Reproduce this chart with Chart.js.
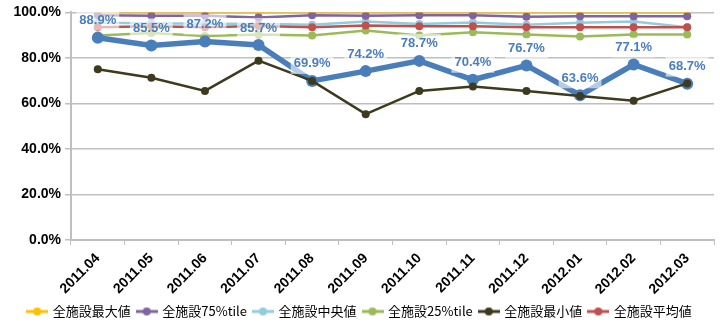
<!DOCTYPE html>
<html>
<head>
<meta charset="utf-8">
<script src="https://cdn.jsdelivr.net/npm/chart.js@4"></script>
<style>
  html, body { margin: 0; padding: 0; background: #fff; }
  #wrap { width: 720px; height: 325px; }
</style>
</head>
<body>
<div id="wrap"><canvas id="chart"></canvas></div>
<script>
// ---- data ----
const months = ['2011.04', '2011.05', '2011.06', '2011.07', '2011.08', '2011.09',
                '2011.10', '2011.11', '2011.12', '2012.01', '2012.02', '2012.03'];

const ownRate = [88.9, 85.5, 87.2, 85.7, 69.9, 74.2, 78.7, 70.4, 76.7, 63.6, 77.1, 68.7];
const maxRate = [100, 100, 100, 100, 100, 100, 100, 100, 100, 100, 100, 100];
const p75Rate = [98.8, 98.5, 98.5, 97.8, 98.8, 98.5, 98.8, 98.8, 98.1, 98.3, 98.3, 98.3];
const medRate = [95.4, 95.2, 95.0, 95.0, 94.6, 96.0, 94.9, 95.6, 94.6, 95.4, 96.0, 93.5];
const p25Rate = [89.9, 91.0, 89.6, 90.3, 89.9, 92.0, 89.9, 91.3, 90.3, 89.4, 90.3, 90.3];
const minRate = [75.0, 71.3, 65.5, 78.8, 69.9, 55.3, 65.5, 67.4, 65.5, 63.3, 61.2, 68.8];
const avgRate = [93.5, 93.9, 93.5, 94.0, 93.5, 94.2, 93.9, 93.9, 93.5, 93.5, 93.5, 93.5];

const yTicks = [0, 20, 40, 60, 80, 100];

const seriesNames = ['全施設最大値', '全施設75%tile', '全施設中央値', '全施設25%tile', '全施設最小値', '全施設平均値'];
const seriesColors = ['#FFC000', '#8064A2', '#93CDDD', '#9BBB59', '#3D3A1E', '#C0504D'];
const ownColor = '#4A7EBB';

// legend marker: short line with a dot
function legendIcon(color) {
    const c = document.createElement('canvas');
    c.width = 22; c.height = 10;
    const g = c.getContext('2d');
    g.strokeStyle = color;
    g.lineWidth = 3;
    g.beginPath(); g.moveTo(0, 5); g.lineTo(22, 5); g.stroke();
    g.fillStyle = color;
    g.beginPath(); g.arc(11, 5, 4, 0, Math.PI * 2); g.fill();
    return c;
}

function lineSet(label, data, color, order) {
    return {
        label: label,
        data: data,
        borderColor: color,
        backgroundColor: color,
        borderWidth: 2.5,
        pointRadius: 4,
        pointHoverRadius: 4,
        pointBorderWidth: 0,
        tension: 0,
        order: order
    };
}

const datasets = [
    lineSet(seriesNames[0], maxRate, seriesColors[0], 5),
    lineSet(seriesNames[1], p75Rate, seriesColors[1], 4),
    lineSet(seriesNames[2], medRate, seriesColors[2], 4),
    lineSet(seriesNames[3], p25Rate, seriesColors[3], 4),
    lineSet(seriesNames[4], minRate, seriesColors[4], 0),
    lineSet(seriesNames[5], avgRate, seriesColors[5], 3),
    {
        label: 'own',
        data: ownRate,
        borderColor: ownColor,
        backgroundColor: ownColor,
        borderWidth: 5.5,
        pointRadius: 6,
        pointHoverRadius: 6,
        pointBorderWidth: 0,
        tension: 0,
        order: 1
    }
];
const OWN = 6;

// value labels above the own-facility line, with a see-through white box
const valueLabels = {
    id: 'valueLabels',
    afterDatasetsDraw(chart) {
        const ctx = chart.ctx;
        const meta = chart.getDatasetMeta(OWN);
        ctx.save();
        ctx.font = 'bold 13px "Liberation Sans", Arial, sans-serif';
        ctx.textAlign = 'center';
        ctx.textBaseline = 'middle';
        meta.data.forEach(function(pt, i) {
            const txt = ownRate[i].toFixed(1) + '%';
            const w = ctx.measureText(txt).width;
            const cx = pt.x, cy = pt.y - 17;
            ctx.fillStyle = 'rgba(255,255,255,0.6)';
            ctx.fillRect(cx - w / 2 - 3, cy - 10, w + 6, 20);
            ctx.fillStyle = '#4A7EBB';
            ctx.fillText(txt, cx, cy);
        });
        ctx.restore();
    }
};

// make the legend box shorter so it sits lower on the page
const legendHeight = {
    id: 'legendHeight',
    beforeLayout(chart) {
        const lg = chart.legend;
        if (lg && !lg._patched) {
            const fit = lg.fit;
            lg.fit = function() {
                fit.call(this);
                this.height = 27;
            };
            lg._patched = true;
        }
    }
};

new Chart(document.getElementById('chart'), {
    type: 'line',
    data: { labels: months, datasets: datasets },
    plugins: [valueLabels, legendHeight],
    options: {
        responsive: true,
        maintainAspectRatio: false,
        animation: false,
        layout: { padding: { top: 3, right: 0, left: 0, bottom: 0 } },
        plugins: {
            tooltip: { enabled: false },
            legend: {
                position: 'bottom',
                labels: {
                    usePointStyle: true,
                    pointStyleWidth: 18,
                    padding: 7,
                    color: '#000',
                    font: { size: 13, family: '"Noto Sans CJK JP", sans-serif' },
                    filter: function(item) { return item.datasetIndex !== OWN; },
                    sort: function(a, b) { return a.datasetIndex - b.datasetIndex; },
                    generateLabels: function(chart) {
                        const items = Chart.defaults.plugins.legend.labels.generateLabels(chart);
                        items.forEach(function(it) {
                            if (it.datasetIndex < seriesColors.length) {
                                it.pointStyle = legendIcon(seriesColors[it.datasetIndex]);
                            }
                        });
                        return items;
                    }
                }
            }
        },
        scales: {
            x: {
                offset: true,
                grid: { display: true, drawOnChartArea: false, offset: true, tickLength: 5, color: '#BFBFBF' },
                border: { color: '#BFBFBF', width: 2 },
                ticks: {
                    color: '#000',
                    maxRotation: 45,
                    minRotation: 45,
                    padding: 5,
                    font: { size: 14, weight: 'bold', family: '"Liberation Sans", Arial, sans-serif' }
                },
                afterFit: function(scale) { scale.height = 58; }
            },
            y: {
                min: 0,
                max: 100,
                afterBuildTicks: function(scale) {
                    scale.ticks = yTicks.map(function(v) { return { value: v }; });
                },
                grid: { color: '#BFBFBF', lineWidth: 1.5, tickLength: 6 },
                border: { color: '#BFBFBF', width: 2 },
                ticks: {
                    color: '#000',
                    padding: 4,
                    font: { size: 14, weight: 'bold', family: '"Liberation Sans", Arial, sans-serif' },
                    callback: function(v) { return v.toFixed(1) + '%'; }
                },
                afterFit: function(scale) { scale.width = 71; }
            }
        }
    }
});
</script>
</body>
</html>
